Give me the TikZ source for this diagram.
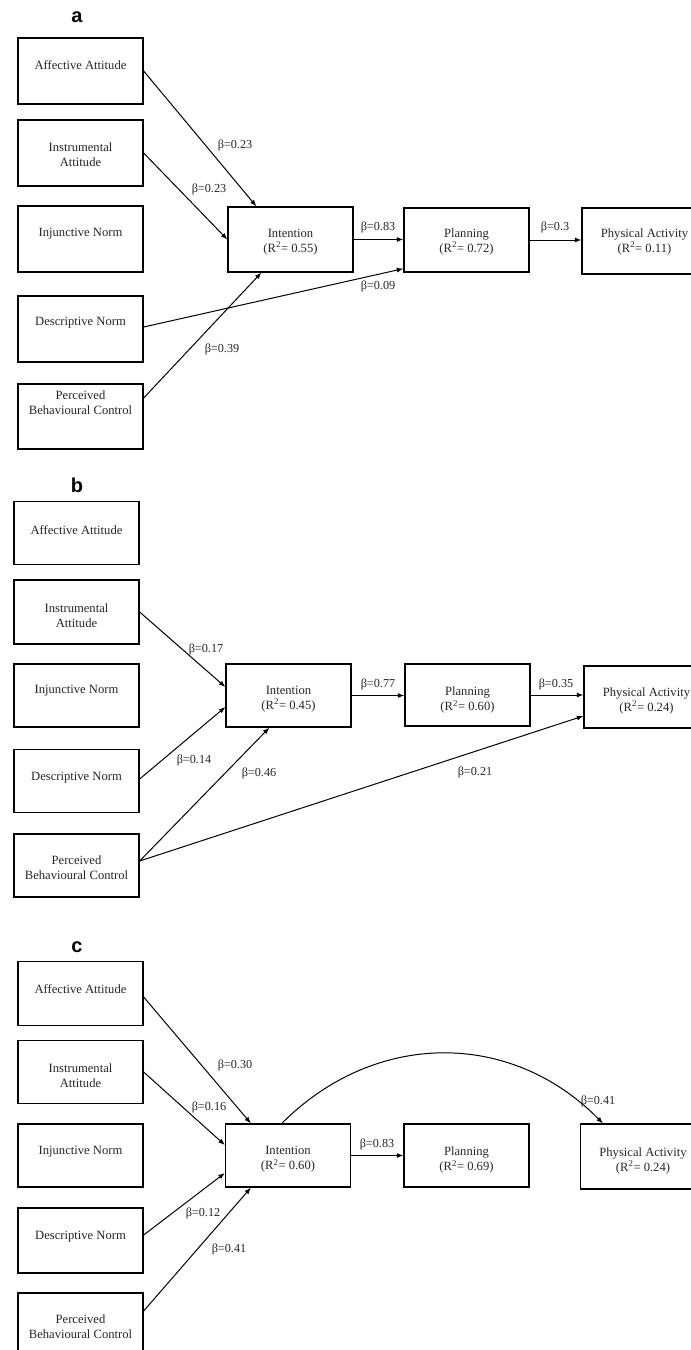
\documentclass[tikz,border=0pt]{standalone}
\usepackage{fontspec}
\setmainfont{Liberation Serif}
\newfontfamily\panelfont{Liberation Sans}
\usetikzlibrary{arrows.meta,calc}
\newcommand\mybox[6]{%
  \node[box, minimum height=#4pt] (#1) at (#2,#3) {};
  \node[txt] (#1t) at (#2,#5) {#6};}
\newcommand\Rsq[1]{(R\textsuperscript{2}= #1)}
\begin{document}
\begin{tikzpicture}[x=1pt,y=-1pt,
  box/.style={draw, line width=1.3pt, minimum width=125pt, inner sep=0pt},
  txt/.style={align=center, font=\fontsize{12.6}{15}\selectfont, inner sep=0pt, text=black!85},
  lab/.style={font=\fontsize{12.2}{14}\selectfont, inner sep=0pt, text=black!85},
  arr/.style={-{Latex[length=6.5pt,width=5pt]}, line width=1pt},
  panel/.style={font=\panelfont\bfseries\fontsize{20}{20}\selectfont, inner sep=0pt}]
\useasboundingbox[fill=white] (0,0) rectangle (691,1350);

% ---------------- panel a ----------------
\node[panel] (pa) at (77,17) {a};
\mybox{a1}{80.5}{71}{66}{65}{Affective Attitude}
\mybox{a2}{80.5}{153}{66}{154.5}{Instrumental\\Attitude}
\mybox{a3}{80.5}{239}{66}{234}{Injunctive Norm}
\mybox{a4}{80.5}{329}{66}{323}{Descriptive Norm}
\mybox{a5}{80.5}{416.5}{65}{403}{Perceived\\Behavioural Control}
\mybox{ai}{290.5}{239.5}{65}{242}{Intention\\\Rsq{0.55}}
\mybox{ap}{466.5}{240}{64}{241.5}{Planning\\\Rsq{0.72}}
\mybox{aq}{644.5}{241}{66}{241.5}{Physical Activity\\\Rsq{0.11}}

\draw[arr] (a1.east) -- ([xshift=29pt]ai.north west);
\draw[arr] (a2.east) -- (ai.west);
\draw[arr] ([yshift=2pt]a4.east) -- ([yshift=4pt]ap.south west);
\draw[arr] ([yshift=18.5pt]a5.east) -- ([xshift=34pt]ai.south west);
\draw[arr] (ai.east) -- (ai.east -| ap.west);
\draw[arr] (ap.east) -- (ap.east -| aq.west);

\node[lab] (la1) at (235,145) {β=0.23};
\node[lab] (la2) at (209,189) {β=0.23};
\node[lab] (la3) at (378,227) {β=0.83};
\node[lab] (la4) at (555,227) {β=0.3};
\node[lab] (la5) at (378,286) {β=0.09};
\node[lab] (la6) at (222,349) {β=0.39};

% ---------------- panel b ----------------
\node[panel] (pb) at (77,485) {b};
\mybox{b1}{76.5}{533}{63}{530}{Affective Attitude}
\mybox{b2}{76.5}{612}{64}{615.5}{Instrumental\\Attitude}
\mybox{b3}{76.5}{695.5}{63}{691}{Injunctive Norm}
\mybox{b4}{76.5}{781}{63}{778}{Descriptive Norm}
\mybox{b5}{76.5}{865.5}{63}{868}{Perceived\\Behavioural Control}
\mybox{bi}{288.5}{695.5}{63}{699}{Intention\\\Rsq{0.45}}
\mybox{bp}{467.5}{695}{62}{700}{Planning\\\Rsq{0.60}}
\mybox{bq}{646.5}{697}{62}{700.5}{Physical Activity\\\Rsq{0.24}}

\draw[arr] (b2.east) -- ([yshift=8.5pt]bi.west);
\draw[arr] ([yshift=2pt]b4.east) -- ([yshift=-11.5pt]bi.west);
\draw[arr] ([yshift=4.5pt]b5.east) -- ([xshift=44pt]bi.south west);
\draw[arr] ([yshift=4.5pt]b5.east) -- ([yshift=-19pt]bq.west);
\draw[arr] (bi.east) -- (bi.east -| bp.west);
\draw[arr] (bp.east) -- (bp.east -| bq.west);

\node[lab] (lb1) at (206,649) {β=0.17};
\node[lab] (lb2) at (194,760) {β=0.14};
\node[lab] (lb3) at (259,773) {β=0.46};
\node[lab] (lb4) at (378,684) {β=0.77};
\node[lab] (lb5) at (556,684) {β=0.35};
\node[lab] (lb6) at (475,772) {β=0.21};

% ---------------- panel c ----------------
\node[panel] (pc) at (77,947) {c};
\mybox{c1}{80.5}{993.5}{64}{989}{Affective Attitude}
\mybox{c2}{80.5}{1072}{63}{1075.5}{Instrumental\\Attitude}
\mybox{c3}{80.5}{1155.5}{63}{1152}{Injunctive Norm}
\mybox{c4}{80.5}{1240.5}{65}{1237}{Descriptive Norm}
\mybox{c5}{80.5}{1324.5}{63}{1327}{Perceived\\Behavioural Control}
\mybox{ci}{288}{1155.5}{63}{1159.5}{Intention\\\Rsq{0.60}}
\mybox{cp}{466.5}{1155.5}{63}{1160}{Planning\\\Rsq{0.69}}
\mybox{cq}{643}{1156.5}{65}{1160.5}{Physical Activity\\\Rsq{0.24}}

\draw[arr] ([yshift=-3.5pt]c1.east) -- ([xshift=26pt]ci.north west);
\draw[arr] (c2.east) -- ([yshift=10.5pt]ci.west);
\draw[arr] ([yshift=5.5pt]c4.east) -- ([yshift=-17.5pt]ci.west);
\draw[arr] ([yshift=13.5pt]c5.east) -- ([xshift=26pt]ci.south west);
\draw[arr] (ci.east) -- (ci.east -| cp.west);
\draw[arr] ([xshift=57pt]ci.north west) .. controls (375,1030) and (511,1030) .. ([xshift=23pt]cq.north west);

\node[lab] (lc1) at (235,1065) {β=0.30};
\node[lab] (lc2) at (209,1107) {β=0.16};
\node[lab] (lc3) at (203,1213) {β=0.12};
\node[lab] (lc4) at (229,1249) {β=0.41};
\node[lab] (lc5) at (377,1144) {β=0.83};
\node[lab] (lc6) at (598,1101) {β=0.41};
\end{tikzpicture}
\end{document}
